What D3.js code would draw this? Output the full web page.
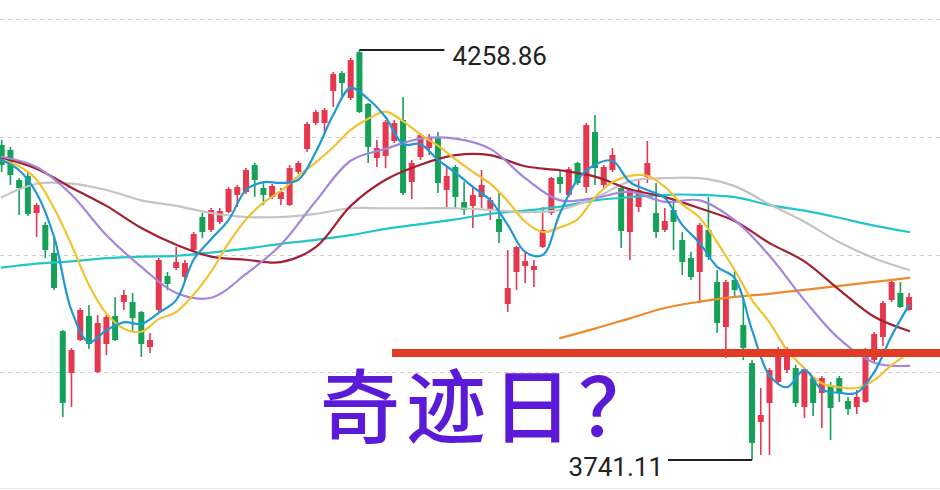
<!DOCTYPE html>
<html><head><meta charset="utf-8">
<script src="https://cdn.jsdelivr.net/npm/d3@7"></script>
<style>html,body{margin:0;padding:0;background:#fff;}svg{display:block}</style>
</head><body><svg id="chart" width="940" height="490"></svg>
<script>
// ---- data ----
const opens  = [4138.9,4132.6,4094.7,4099.7,4053.0,4037.9,4002.5,3904.0,3851.0,3892.6,3923.0,3852.2,3887.6,3923.0,3940.6,3940.6,3928.0,3883.8,3930.5,3973.5,3983.6,3972.2,4006.3,4048.0,4031.6,4041.7,4054.3,4075.8,4079.5,4113.6,4084.6,4073.2,4070.7,4063.1,4104.8,4133.8,4166.7,4166.7,4207.1,4229.8,4198.2,4256.3,4190.7,4122.5,4125.0,4143.9,4170.5,4092.2,4123.7,4135.1,4147.7,4082.1,4111.1,4066.9,4061.9,4073.2,4056.8,4045.4,3938.1,3978.5,3986.1,3981.0,4010.1,4053.0,4098.5,4075.8,4116.2,4085.9,4155.3,4088.4,4107.3,4084.6,4029.0,4060.6,4098.5,4053.0,4031.6,4056.8,4018.9,3996.2,3978.5,4031.6,3965.9,3909.1,3968.4,3911.6,3863.6,3789.1,3813.1,3839.6,3854.8,3857.3,3808.0,3844.7,3825.7,3835.8,3844.7,3815.6,3808.0,3814.4,3867.4,3896.4,3943.2,3952.0,3930.5];
const highs  = [4145.2,4136.4,4097.2,4104.8,4065.7,4041.7,4025.2,3905.3,3882.5,3933.1,3936.8,3924.2,3924.2,3946.9,3955.8,3952.0,3929.3,3901.5,3996.2,3978.5,4010.1,3993.7,4029.0,4053.0,4059.3,4059.3,4085.9,4088.4,4109.8,4116.2,4090.9,4089.6,4084.6,4113.6,4118.7,4167.9,4183.1,4185.6,4231.1,4232.3,4248.8,4258.86,4191.9,4145.2,4170.5,4170.5,4199.5,4120.0,4154.0,4152.8,4155.3,4111.1,4113.6,4092.2,4085.9,4107.3,4073.2,4078.3,4006.3,4011.4,4005.0,3993.7,4060.6,4098.5,4106.1,4111.1,4117.4,4166.7,4176.8,4113.6,4135.1,4088.4,4084.6,4094.7,4143.9,4090.9,4059.3,4069.4,4029.0,4003.8,4040.4,4073.2,3981.0,3968.4,3981.0,3946.9,3867.4,3832.0,3857.3,3883.8,3883.8,3861.1,3858.6,3847.2,3847.2,3839.6,3847.2,3820.7,3829.5,3882.5,3902.8,3941.9,3968.4,3965.9,3952.0];
const lows   = [4104.8,4088.4,4050.5,4049.2,4022.7,3996.2,3955.8,3795.4,3808.0,3891.4,3881.3,3851.0,3873.7,3891.4,3930.5,3904.0,3871.2,3876.2,3928.0,3955.8,3981.0,3968.4,4003.8,4021.5,4029.0,4039.1,4053.0,4060.6,4077.0,4073.2,4063.1,4070.7,4063.1,4061.9,4102.3,4130.1,4164.1,4155.3,4186.9,4200.8,4195.7,4179.3,4116.2,4111.1,4109.8,4141.4,4075.8,4070.7,4120.0,4126.3,4078.3,4060.6,4059.3,4050.5,4034.1,4059.3,4044.2,4015.1,3928.0,3955.8,3964.6,3959.6,4008.8,4050.5,4078.3,4073.2,4088.4,4078.3,4088.4,4084.6,4104.8,4008.8,3993.7,4054.3,4090.9,4021.5,4029.0,4006.3,3974.7,3968.4,3939.4,3993.7,3901.5,3869.9,3945.7,3867.4,3741.11,3747.4,3747.4,3837.1,3851.0,3808.0,3794.2,3796.7,3781.5,3766.4,3814.4,3797.9,3799.2,3813.1,3864.9,3885.1,3940.6,3933.1,3929.7];
const closes = [4113.6,4101.0,4084.6,4051.8,4063.1,4006.3,3958.3,3813.1,3880.0,3930.5,3887.6,3914.1,3921.7,3892.6,3949.5,3920.4,3887.6,3892.6,3993.7,3963.4,3991.1,3989.9,4026.5,4029.0,4056.8,4055.5,4083.3,4085.9,4107.3,4094.7,4075.8,4087.1,4079.5,4109.8,4116.2,4165.4,4180.6,4183.1,4228.6,4217.2,4246.2,4180.6,4136.4,4135.1,4167.9,4166.7,4078.3,4116.2,4151.5,4149.0,4090.9,4099.7,4073.2,4056.8,4075.8,4088.4,4069.4,4029.0,3958.3,4010.1,3992.4,3986.1,4031.6,4097.2,4089.6,4108.6,4090.9,4164.1,4109.8,4111.1,4126.3,4030.3,4082.1,4082.1,4116.2,4029.0,4042.9,4041.7,3991.1,3972.2,4037.9,3997.5,3914.1,3965.9,3955.8,3882.5,3762.6,3797.9,3854.8,3871.2,3873.7,3813.1,3856.0,3813.1,3844.7,3806.8,3825.7,3805.5,3820.7,3880.0,3900.2,3939.4,3965.9,3934.3,3946.9];

// moving averages, read at every 2nd / 4th candle
const ma5Idx  = d3.range(0, 105, 2);
const ma5  = [4120,4107,4078,4023,3930,3890,3905,3915,3913,3927,3943,3994,4020,4044,4082,4092,4091,4095,4130,4177,4211,4197,4174,4140,4140,4120,4104,4086,4069,4038,4004,4000,4053,4095,4114,4119,4092,4082,4072,4038,4015,3985,3971,3905,3848,3833,3855,3830,3826,3826,3852,3898,3937];
const ma10 = [4120,4112,4095,4059,4013,3962,3926,3907,3903,3919,3928,3950,3979,4015,4045,4066,4081,4100,4117,4136,4158,4172,4181,4169,4152,4138,4121,4105,4090,4068,4042,4029,4035,4045,4073,4092,4100,4100,4086,4064,4047,4016,3981,3943,3915,3880,3857,3838,3833,3832,3842,3861,3876];
const maIdx4 = d3.range(0, 105, 4);
const ma20  = [4124,4111,4076,4025,3985,3952,3946,3976,4013,4068,4119,4134,4147,4147,4134,4097,4069,4072,4080,4067,4069,4044,3999,3943,3894,3864,3860];
const ma30  = [4123,4109,4085,4062,4034,4013,3998,3994,3991,4010,4062,4095,4114,4126,4126,4112,4107,4099,4083,4073,4059,4043,4015,3992,3956,3922,3904];
const ma60  = [4073,4090,4090,4082,4069,4062,4053,4048,4048,4052,4059,4059,4059,4059,4057,4054,4057,4072,4093,4097,4097,4087,4064,4042,4016,3996,3981];
const ma120 = [3984,3989,3992,3996,3998,3999,4003,4008,4014,4019,4025,4033,4039,4045,4052,4056,4061,4069,4073,4076,4076,4073,4063,4056,4047,4037,4029];
const ma250Idx = d3.range(64, 105, 4);
const ma250 = [3895,3907,3920,3933,3941,3947,3951,3956,3961,3966,3971];

const gridPrices = [4297.4, 4149.0, 4000.6, 3852.2];
const highLabel = "4258.86", highIndex = 41;
const lowLabel = "3741.11", lowIndex = 86;
const markPrice = 3876.2;
const title = "奇迹日？";

// ---- drawing ----
const svg = d3.select("#chart");
const n = opens.length;
const x = d3.scaleLinear().domain([0, n - 1]).range([1.7, 909.1]);
const y = d3.scaleLinear().domain([3741.11, 4258.86]).range([460, 50]);
const RED = "#e5384f", GREEN = "#15a158";

// grid
svg.append("g").selectAll("line").data(gridPrices).join("line")
  .attr("x1", 0).attr("x2", 940)
  .attr("y1", d => Math.round(y(d)) + 0.5).attr("y2", d => Math.round(y(d)) + 0.5)
  .attr("stroke", "#cfcfcf").attr("stroke-width", 1).attr("stroke-dasharray", "4,4");
svg.append("line").attr("x1",0).attr("x2",940).attr("y1",488.5).attr("y2",488.5)
  .attr("stroke","#e6e6e6").attr("stroke-width",1);

// candles
const idx = d3.range(n);
const cg = svg.append("g");
cg.selectAll("line.wick").data(idx).join("line").attr("class","wick")
  .attr("x1", i => x(i)).attr("x2", i => x(i))
  .attr("y1", i => y(highs[i])).attr("y2", i => y(lows[i]))
  .attr("stroke", i => closes[i] >= opens[i] ? RED : GREEN).attr("stroke-width", 1.6);
cg.selectAll("rect").data(idx).join("rect")
  .attr("x", i => x(i) - 3).attr("width", 6)
  .attr("y", i => y(Math.max(opens[i], closes[i])))
  .attr("height", i => Math.max(1.5, Math.abs(y(opens[i]) - y(closes[i]))))
  .attr("fill", i => closes[i] >= opens[i] ? RED : GREEN);

// moving averages
const line = d3.line().x(d => x(d[0])).y(d => y(d[1])).curve(d3.curveCatmullRom.alpha(0.5));
const series = [
  [maIdx4, ma120, "#22c6c6"],
  [maIdx4, ma60, "#c4c4c4"],
  [ma250Idx, ma250, "#ee8a2c"],
  [maIdx4, ma30, "#a3212f"],
  [maIdx4, ma20, "#a685de"],
  [ma5Idx, ma10, "#f1c232"],
  [ma5Idx, ma5, "#1f98d6"]
];
series.forEach(([ix, vals, col]) => {
  svg.append("path").datum(ix.map((k, j) => [k, vals[j]]))
    .attr("d", line).attr("fill", "none").attr("stroke", col)
    .attr("stroke-width", 2.2).attr("stroke-linejoin", "round").attr("stroke-linecap","round");
});

// thick red mark line
svg.append("line").attr("x1", 392).attr("x2", 940)
  .attr("y1", y(markPrice)).attr("y2", y(markPrice))
  .attr("stroke", "#e03c24").attr("stroke-width", 8);

// high / low labels
const hx = x(highIndex), hy = y(highs[highIndex]);
svg.append("line").attr("x1", hx).attr("x2", hx + 85).attr("y1", hy).attr("y2", hy)
  .attr("stroke", "#222").attr("stroke-width", 2);
svg.append("text").attr("x", hx + 93).attr("y", hy + 15).text(highLabel)
  .attr("font-family", "Roboto, 'DejaVu Sans', sans-serif").attr("font-size", 26).attr("fill", "#222");
const lx = x(lowIndex), ly = y(lows[lowIndex]);
svg.append("line").attr("x1", lx).attr("x2", lx - 84).attr("y1", ly).attr("y2", ly)
  .attr("stroke", "#222").attr("stroke-width", 2);
svg.append("text").attr("x", lx - 89).attr("y", ly + 16).attr("text-anchor", "end").text(lowLabel)
  .attr("font-family", "Roboto, 'DejaVu Sans', sans-serif").attr("font-size", 26).attr("fill", "#222");

// big title
svg.append("text").attr("x", 320).attr("y", 436).text(title)
  .attr("font-family", "'Noto Sans CJK SC', sans-serif").attr("font-size", 80)
  .attr("letter-spacing", 6)
  .attr("font-weight", 500).attr("fill", "#5a1ad8");
</script></body></html>
